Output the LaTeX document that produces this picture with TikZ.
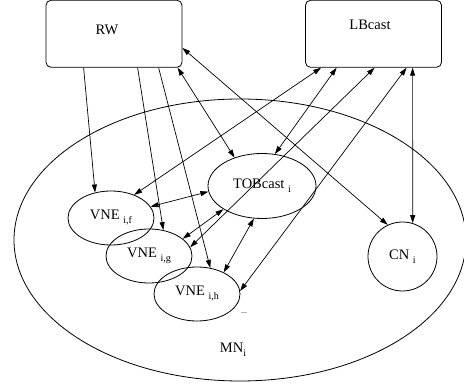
\documentclass[tikz,border=0pt]{standalone}
\usepackage{fontspec}
\setmainfont{Liberation Serif}
\usetikzlibrary{shapes.geometric,calc,arrows.meta}
\newcommand{\sbs}[1]{\raisebox{-4pt}{\fontsize{10}{12}\selectfont #1}}
\begin{document}
\begin{tikzpicture}[x=1pt,y=-1pt,
  lbl/.style={font=\fontsize{14.5}{17}\selectfont, inner sep=0pt},
  box/.style={draw, rounded corners=5pt, minimum width=136pt, minimum height=67pt, inner sep=0pt, line width=0.8pt},
  oval/.style={draw, ellipse, inner sep=0pt, line width=0.8pt, font=\fontsize{14.5}{17}\selectfont},
  vne/.style={oval, minimum width=86pt, minimum height=54pt},
  tip/.tip={Triangle[length=8pt,width=5pt]},
  conn/.style={line width=0.7pt, -tip},
  biconn/.style={line width=0.7pt, tip-tip}
]
\useasboundingbox (0,0) rectangle (464,387);
\node[box] (rw) at (114,33.8) {};
\node[lbl] (rwt) at (107,30) {RW};
\node[box] (lb) at (373.5,33.8) {};
\node[lbl] (lbt) at (370,25) {LBcast};
\node[oval, minimum width=452pt, minimum height=282pt] (mn) at (240,240) {};
\node[lbl] (mnt) at (233,350) {MN\sbs{i}};
\node[oval, minimum width=108pt, minimum height=65pt] (tob) at (262,186) {TOBcast \sbs{i}};
\node[vne] (vnef) at (111,218) {VNE \sbs{i,f}};
\node[vne] (vneg) at (149,256) {VNE \sbs{i,g}};
\node[vne] (vneh) at (197,294) {VNE \sbs{i,h}};
\node[oval, circle, minimum size=69pt] (cn) at (402.5,256.5) {CN \sbs{i}};
\node[font=\fontsize{8}{9}\selectfont, inner sep=0pt] (dots) at (244,313) {...};
% RW connectors
\draw[conn] ($(rw.south west)+(38,0)$) -- (vnef.122);
\draw[conn] ($(rw.south west)+(92,0)$) -- (vneg.61);
\draw[conn] ($(rw.south west)+(113,0)$) -- (vneh.63);
\draw[biconn] ($(rw.south west)+(132,0)$) -- (tob.134);
\draw[biconn] ($(rw.north east)+(0,48)$) -- (cn.115);
% LBcast connectors
\draw[biconn] ($(lb.south west)+(16,0)$) -- (vnef.45);
\draw[biconn] ($(lb.south west)+(31.5,0)$) -- (tob.68);
\draw[biconn] ($(lb.south west)+(69.5,0)$) -- (vneg.12);
\draw[biconn] ($(lb.south west)+(101.5,0)$) -- (vneh.4);
\draw[biconn] ($(lb.south west)+(107.5,0)$) -- (cn.73);
% TOBcast connectors
\draw[biconn] (tob.186) -- (vnef.16);
\draw[biconn] (tob.211) -- (vneg.27);
\draw[biconn] (tob.256) -- (vneh.39);
\end{tikzpicture}
\end{document}
